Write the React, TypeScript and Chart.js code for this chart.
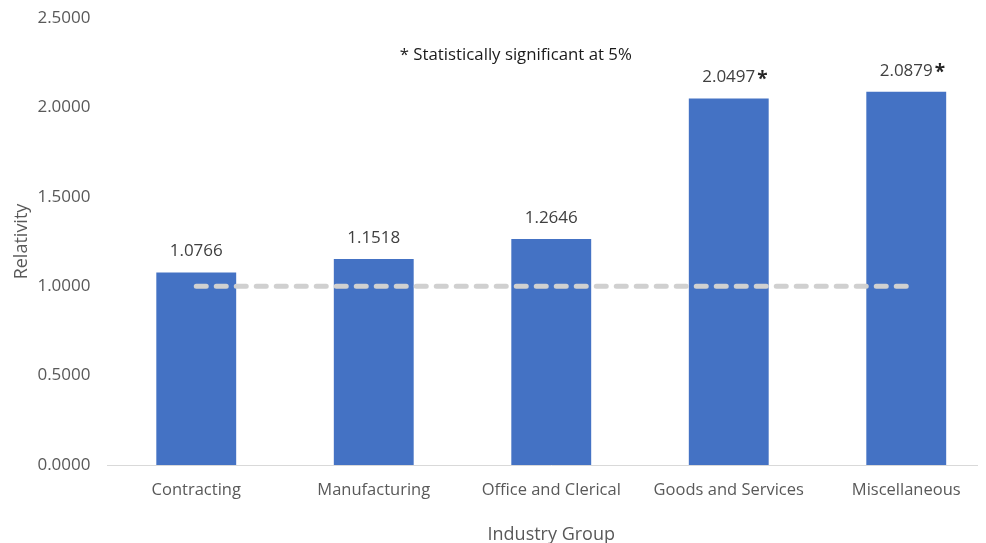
import React, { useEffect, useRef } from "react";
import { Chart, registerables } from "chart.js";

Chart.register(...registerables);

const categories = ["Contracting", "Manufacturing", "Office and Clerical", "Goods and Services", "Miscellaneous"];
const relativity = [1.0766, 1.1518, 1.2646, 2.0497, 2.0879];
const significant = [false, false, false, true, true];
const baseline = [1, 1, 1, 1, 1];
const yTicks = [0, 0.5, 1, 1.5, 2, 2.5];
const noteText = "* Statistically significant at 5%";

const FONT = "'Open Sans', sans-serif";

const labelPlugin = {
  id: "barLabels",
  afterDatasetsDraw(chart: any) {
    const ctx = chart.ctx;
    const meta = chart.getDatasetMeta(1);
    ctx.save();
    ctx.textBaseline = "middle";
    meta.data.forEach((bar: any, i: number) => {
      const txt = relativity[i].toFixed(4);
      const y = bar.y - 21;
      ctx.font = "17px " + FONT;
      ctx.fillStyle = "#404040";
      if (significant[i]) {
        const w = ctx.measureText(txt).width;
        const x0 = bar.x - w / 2;
        ctx.textAlign = "left";
        ctx.fillText(txt, x0, y);
        ctx.font = "bold 19px " + FONT;
        ctx.fillStyle = "#262626";
        ctx.fillText("*", x0 + w + 2, y + 2);
      } else {
        ctx.textAlign = "center";
        ctx.fillText(txt, bar.x, y);
      }
    });
    // note
    const area = chart.chartArea;
    const ys = chart.scales.y;
    ctx.font = "16.8px " + FONT;
    ctx.fillStyle = "#1a1a1a";
    ctx.textAlign = "center";
    ctx.fillText(noteText, area.left + (area.right - area.left) * 0.46, ys.getPixelForValue(2.29));
    ctx.restore();
  },
};

export default function App() {
  const ref = useRef<HTMLCanvasElement | null>(null);
  useEffect(() => {
    if (!ref.current) return;
    const chart = new Chart(ref.current, {
      type: "bar",
      data: {
        labels: categories,
        datasets: [
          {
            type: "line",
            label: "Baseline",
            data: baseline,
            borderColor: "#D0D0D0",
            borderWidth: 5,
            borderDash: [10, 10],
            borderCapStyle: "round",
            pointRadius: 0,
            fill: false,
            order: 0,
          } as any,
          {
            type: "bar",
            label: "Relativity",
            data: relativity,
            backgroundColor: "#4472C4",
            barPercentage: 0.45,
            categoryPercentage: 1,
            order: 1,
          },
        ],
      },
      options: {
        animation: false,
        responsive: false,
        maintainAspectRatio: false,
        layout: { padding: { top: 10, right: 3, bottom: -3, left: 0 } },
        plugins: { legend: { display: false }, tooltip: { enabled: false } },
        scales: {
          x: {
            grid: { display: false, drawTicks: false },
            border: { display: true, color: "#D9D9D9", width: 1 },
            ticks: { font: { family: FONT, size: 16.5 }, color: "#595959", padding: 15 },
            title: {
              display: true,
              text: "Industry Group",
              font: { family: FONT, size: 18 },
              color: "#595959",
              padding: { top: 16, bottom: 0 },
            },
            afterFit: (s: any) => {
              s.height = 81;
            },
          },
          y: {
            min: 0,
            max: 2.5,
            afterBuildTicks: (s: any) => {
              s.ticks = yTicks.map((v) => ({ value: v }));
            },
            grid: { display: false, drawTicks: false },
            border: { display: false },
            ticks: {
              font: { family: FONT, size: 17 },
              color: "#595959",
              padding: 17,
              callback: (v: any) => Number(v).toFixed(4),
            },
            title: {
              display: true,
              text: "Relativity",
              font: { family: FONT, size: 18 },
              color: "#595959",
              padding: { top: 3, bottom: 0 },
            },
            afterFit: (s: any) => {
              s.width = 99.5;
              s.paddingTop = 0;
              s.paddingBottom = 0;
            },
          },
        },
      },
      plugins: [labelPlugin],
    });
    return () => chart.destroy();
  }, []);
  return (
    <div style={{ width: 970, height: 535, overflow: "hidden", position: "relative" }}>
      <canvas ref={ref} width={990} height={535} style={{ display: "block", width: 990, height: 535 }} />
    </div>
  );
}
